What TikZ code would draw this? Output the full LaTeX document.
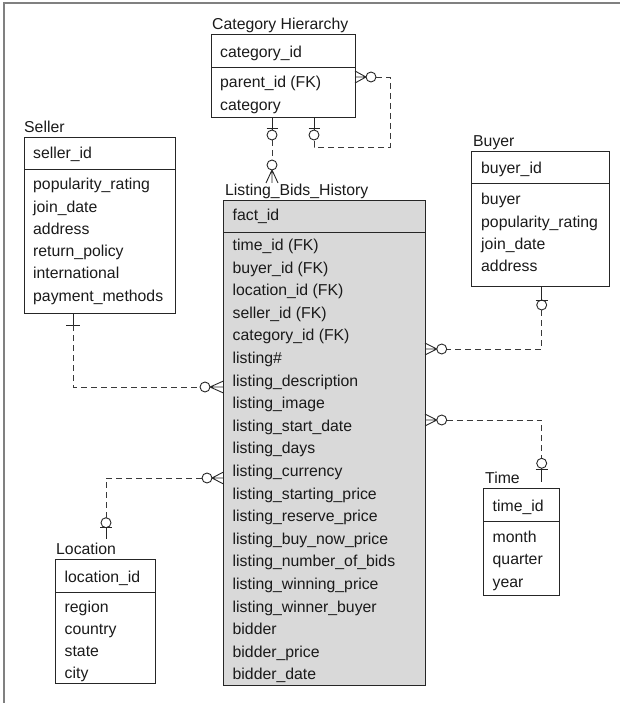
\documentclass[tikz,border=0pt]{standalone}
\usepackage{fontspec}
\setmainfont{Liberation Sans}
\newcommand\erfont{\fontsize{15.8}{19}\selectfont}
\definecolor{linec}{HTML}{262626}
\definecolor{dashc}{HTML}{3A3A3A}
\definecolor{textc}{HTML}{1A1A1A}
\definecolor{fillc}{HTML}{D9D9D9}
\definecolor{framec}{HTML}{808080}
\begin{document}
\begin{tikzpicture}[x=1pt,y=-1pt,
  ent/.style={draw=linec, line width=0.9pt, inner sep=0pt, outer sep=0pt, anchor=north west},
  attr/.style={anchor=base west, inner sep=0pt, text=textc, font=\erfont},
  ttl/.style={anchor=base west, inner sep=0pt, text=textc, font=\erfont},
  rel/.style={draw=linec, line width=0.9pt},
  dsh/.style={draw=dashc, line width=0.9pt, dash pattern=on 6pt off 4pt},
  oc/.style={circle, draw=linec, line width=0.9pt, fill=white, minimum size=10pt, inner sep=0pt, outer sep=0pt}
]
\useasboundingbox (0,0) rectangle (620,703);
% frame
\draw[framec, line width=1.6pt] (4,703) -- (4,3) -- (620,3);

% ---------- Category Hierarchy
\node[ttl] (catT) at (212,29.5) {Category Hierarchy};
\node[ent, minimum width=144pt, minimum height=83pt] (cat) at (211,34) {};
\draw[rel] (211,67) -- (355,67);
\node[attr] (cat1) at (220,58) {category\_id};
\node[attr] (cat2) at (220,88) {parent\_id (FK)};
\node[attr] (cat3) at (220,111) {category};

% ---------- Seller
\node[ttl] (selT) at (24,132.5) {Seller};
\node[ent, minimum width=151pt, minimum height=176pt] (sel) at (24,137) {};
\draw[rel] (24,169) -- (175,169);
\node[attr] (sel0) at (33,159) {seller\_id};
\foreach \t [count=\i from 0] in {popularity\_rating, join\_date, address, return\_policy, international, payment\_methods}
  \node[attr] (sel\i a) at (33,{190+22.2*\i}) {\t};

% ---------- Buyer
\node[ttl] (buyT) at (473,147) {Buyer};
\node[ent, minimum width=137.3pt, minimum height=135pt] (buy) at (471.7,151.7) {};
\draw[rel] (471.7,183) -- (609,183);
\node[attr] (buy0) at (481,174) {buyer\_id};
\foreach \t [count=\i from 0] in {buyer, popularity\_rating, join\_date, address}
  \node[attr] (buy\i a) at (481,{205+22.3*\i}) {\t};

% ---------- Listing_Bids_History
\node[ttl] (lisT) at (225,195.5) {Listing\_Bids\_History};
\node[ent, fill=fillc, minimum width=201.5pt, minimum height=485pt] (lis) at (223.5,200) {};
\draw[rel] (223.5,232) -- (425,232);
\node[attr] (lis0) at (232.5,221) {fact\_id};
\foreach \t [count=\i from 0] in {time\_id (FK), buyer\_id (FK), location\_id (FK), seller\_id (FK), category\_id (FK), listing\#, listing\_description, listing\_image, listing\_start\_date, listing\_days, listing\_currency, listing\_starting\_price, listing\_reserve\_price, listing\_buy\_now\_price, listing\_number\_of\_bids, listing\_winning\_price, listing\_winner\_buyer, bidder, bidder\_price, bidder\_date}
  \node[attr] (lis\i a) at (232.5,{250.5+22.6*\i}) {\t};

% ---------- Location
\node[ttl] (locT) at (56,554.5) {Location};
\node[ent, minimum width=100pt, minimum height=124pt] (loc) at (55.7,559) {};
\draw[rel] (55.7,592) -- (155.7,592);
\node[attr] (loc0) at (64.5,582) {location\_id};
\foreach \t [count=\i from 0] in {region, country, state, city}
  \node[attr] (loc\i a) at (64.5,{612+22.3*\i}) {\t};

% ---------- Time
\node[ttl] (timT) at (485,483.5) {Time};
\node[ent, minimum width=76pt, minimum height=107pt] (tim) at (483,488) {};
\draw[rel] (483,521) -- (559,521);
\node[attr] (tim0) at (492.5,511) {time\_id};
\foreach \t [count=\i from 0] in {month, quarter, year}
  \node[attr] (tim\i a) at (492.5,{542+22.5*\i}) {\t};

% ---------- Category self relation
\node[oc] (o1) at (371,77) {};
\draw[rel] (o1.west) -- ++(-11,-6) (o1.west) -- ++(-11,0) (o1.west) -- ++(-11,6);
\node[oc] (o2) at (314,135) {};
\draw[dsh] (o1.east) -| (390,147) -| (o2.south);
\draw[rel] (o2.north) -- (o2.north |- cat.south);
\draw[rel] (o2.north) ++(-5.5,-2) -- ++(11,0);

% ---------- Category -> Listing
\node[oc] (o3) at (272,135) {};
\draw[rel] (o3.north) -- (o3.north |- cat.south);
\draw[rel] (o3.north) ++(-5.5,-2) -- ++(11,0);
\node[oc] (o4) at (272,165) {};
\draw[dsh] (o3.south) -- (o4.north);
\draw[rel] (o4.south) -- ++(-6,13) (o4.south) -- ++(0,13) (o4.south) -- ++(6,13);

% ---------- Seller -> Listing
\coordinate (sb) at (73,325);
\draw[rel] (sel.south -| sb) -- (sb);
\draw[rel] (sb) ++(-7,0) -- ++(14,0);
\node[oc] (o5) at (205,387) {};
\draw[dsh] (sb) |- (o5.west);
\draw[rel] (o5.east) -- ++(13.5,-6) (o5.east) -- ++(13.5,0) (o5.east) -- ++(13.5,6);

% ---------- Buyer -> Listing
\node[oc] (o6) at (541.7,305) {};
\draw[rel] (o6.north) -- (o6.north |- buy.south);
\draw[rel] (o6.north) ++(-6,0) -- ++(12,0);
\node[oc] (o7) at (441.7,349) {};
\draw[dsh] (o6.south) |- (o7.east);
\draw[rel] (o7.west) -- ++(-11.7,-6) (o7.west) -- ++(-11.7,0) (o7.west) -- ++(-11.7,6);

% ---------- Listing -> Time
\node[oc] (o8) at (441.7,420) {};
\draw[rel] (o8.west) -- ++(-11.7,-6) (o8.west) -- ++(-11.7,0) (o8.west) -- ++(-11.7,6);
\node[oc] (o9) at (541.7,463.3) {};
\draw[dsh] (o8.east) -| (o9.north);
\coordinate (tb) at (541.7,482);
\draw[rel] (o9.south) -- (tb);
\draw[rel] (o9.south) ++(-6,0.7) -- ++(12,0);

% ---------- Listing -> Location
\node[oc] (o10) at (207,478) {};
\draw[rel] (o10.east) -- ++(11.5,-6) (o10.east) -- ++(11.5,0) (o10.east) -- ++(11.5,6);
\node[oc] (o11) at (106,522.7) {};
\draw[dsh] (o10.west) -| (o11.north);
\coordinate (lb) at (106,539.3);
\draw[rel] (o11.south) -- (lb);
\draw[rel] (o11.south) ++(-6,0) -- ++(12,0);
\end{tikzpicture}
\end{document}
